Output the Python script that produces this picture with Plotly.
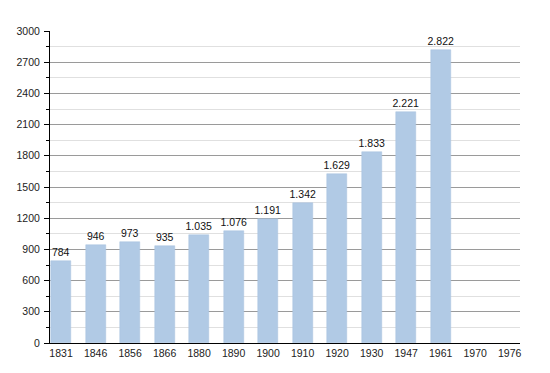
import plotly.graph_objects as go

years = ["1831", "1846", "1856", "1866", "1880", "1890", "1900", "1910", "1920", "1930", "1947", "1961", "1970", "1976"]
population = [784, 946, 973, 935, 1035, 1076, 1191, 1342, 1629, 1833, 2221, 2822, None, None]
labels = ["784", "946", "973", "935", "1.035", "1.076", "1.191", "1.342", "1.629", "1.833", "2.221", "2.822", "", ""]
y_ticks = [0, 300, 600, 900, 1200, 1500, 1800, 2100, 2400, 2700, 3000]

fig = go.Figure()
fig.add_trace(go.Bar(
    x=list(range(len(years))), y=population, text=labels,
    textposition="outside", cliponaxis=False,
    textfont=dict(size=10.5, color="#111", family="Liberation Sans, Arial, sans-serif"),
    marker=dict(color="#b1cae5", line=dict(color="#a9c3de", width=0.5)),
    width=0.58,
))
fig.update_layout(
    width=542, height=365,
    margin=dict(l=42, r=30, t=23, b=30, autoexpand=False),
    plot_bgcolor="white", paper_bgcolor="white",
    showlegend=False, bargap=0,
    font=dict(family="Liberation Sans, Arial, sans-serif", size=10.5, color="#222"),
    uniformtext=dict(minsize=9, mode="show"),
)
fig.update_xaxes(
    range=[-0.32, 13.3], tickmode="array", tickvals=list(range(len(years))), ticktext=years,
    showgrid=False, showline=True, linecolor="black", linewidth=1,
    ticks="", ticklen=0, zeroline=False, tickfont=dict(size=10.5), automargin=False,
)
fig.update_yaxes(
    range=[0, 3000], tickmode="array", tickvals=y_ticks,
    showgrid=True, gridcolor="#9a9a9a", gridwidth=1,
    showline=True, linecolor="black", linewidth=1,
    ticks="outside", ticklen=5, tickcolor="black", tickwidth=1,
    minor=dict(dtick=150, tick0=0, showgrid=True, gridcolor="#e0e0e0", ticks="outside", ticklen=3, tickcolor="black"),
    zeroline=False, tickfont=dict(size=10.5), ticklabelstandoff=2, automargin=False,
)
fig.write_html("out.html")
